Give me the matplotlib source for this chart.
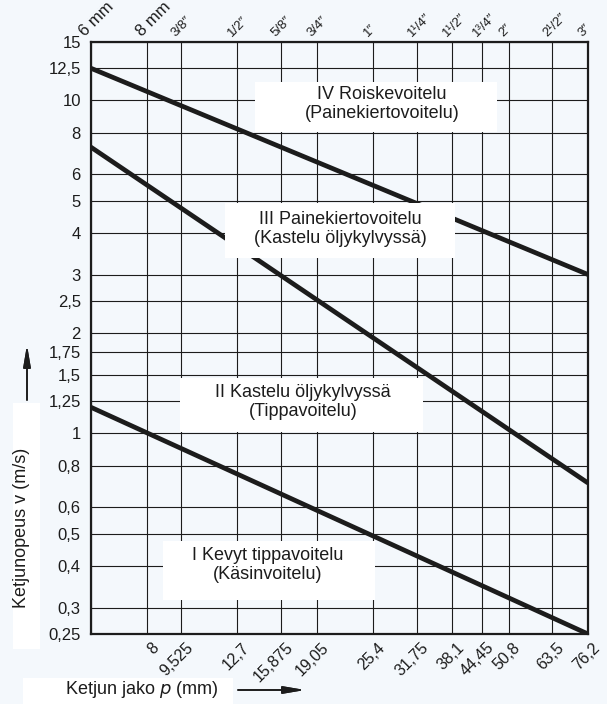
import matplotlib.pyplot as plt
from matplotlib.patches import Rectangle
from matplotlib.transforms import ScaledTranslation, blended_transform_factory

plt.rcParams['font.family'] = ['Liberation Sans', 'DejaVu Sans']

# chain pitch (mm) and matching inch sizes
pitch_mm = [6, 8, 9.525, 12.7, 15.875, 19.05, 25.4, 31.75, 38.1, 44.45, 50.8, 63.5, 76.2]
pitch_bottom = ['', '8', '9,525', '12,7', '15,875', '19,05', '25,4', '31,75', '38,1',
                '44,45', '50,8', '63,5', '76,2']
pitch_top = ['6 mm', '8 mm', '3/8″', '1/2″', '5/8″', '3/4″', '1″', '1¹/4″', '1¹/2″',
             '1³/4″', '2″', '2¹/2″', '3″']

# chain speed (m/s)
speed_ticks = [0.25, 0.3, 0.4, 0.5, 0.6, 0.8, 1, 1.25, 1.5, 1.75, 2, 2.5, 3, 4, 5,
               6, 8, 10, 12.5, 15]
speed_labels = ['0,25', '0,3', '0,4', '0,5', '0,6', '0,8', '1', '1,25', '1,5', '1,75',
                '2', '2,5', '3', '4', '5', '6', '8', '10', '12,5', '15']

# boundary lines between lubrication ranges
line_pitch = [6, 76.2]
limit_1_2 = [1.2, 0.25]
limit_2_3 = [7.25, 0.71]
limit_3_4 = [12.5, 3.0]

zones = ['IV Roiskevoitelu\n(Painekiertovoitelu)',
         'III Painekiertovoitelu\n(Kastelu öljykylvyssä)',
         'II Kastelu öljykylvyssä\n(Tippavoitelu)',
         'I Kevyt tippavoitelu\n(Käsinvoitelu)']

bg = '#f4f8fc'
ink = '#1c1c1c'
W, H = 607, 704

fig = plt.figure(figsize=(W / 100, H / 100), dpi=100, facecolor=bg)
ax = fig.add_axes([90.5 / W, 1 - 634 / H, 497.5 / W, 592.3 / H], facecolor=bg)

ax.set_xscale('log')
ax.set_yscale('log')
ax.set_xlim(6, 76.2)
ax.set_ylim(0.25, 15)

ax.set_xticks(pitch_mm)
ax.set_xticklabels([])
ax.set_xticks([], minor=True)
ax.set_yticks(speed_ticks)
ax.set_yticklabels(speed_labels, fontsize=12, color=ink)
ax.set_yticks([], minor=True)
ax.tick_params(length=0)
ax.tick_params(axis='y', pad=7)

# rotated pitch labels below and above the grid
xt = blended_transform_factory(ax.transData, ax.transAxes)
px = fig.dpi_scale_trans
for p, lab in zip(pitch_mm, pitch_bottom):
    ax.text(p, 0, lab, transform=xt + ScaledTranslation(4 / 100, -6 / 100, px),
            rotation=45, ha='right', va='top', rotation_mode='anchor',
            fontsize=11.5, color=ink)
for p, lab in zip(pitch_mm, pitch_top):
    ax.text(p, 1, lab, transform=xt + ScaledTranslation(-3 / 100, 3 / 100, px),
            rotation=45, ha='left', va='bottom', rotation_mode='anchor',
            fontsize=12 if 'mm' in lab else 9.5, color=ink)

ax.grid(True, which='major', color=ink, lw=0.8)
for s in ax.spines.values():
    s.set_linewidth(1.6)
    s.set_color(ink)

for vals in (limit_1_2, limit_2_3, limit_3_4):
    ax.plot(line_pitch, vals, color=ink, lw=3.4, solid_capstyle='butt', zorder=3)

# white label boxes (axes fractions)
boxes = [(0.331, 0.848, 0.486, 0.084, 0.586, 0.895),
         (0.270, 0.635, 0.463, 0.093, 0.5015, 0.684),
         (0.180, 0.341, 0.488, 0.091, 0.427, 0.392),
         (0.146, 0.057, 0.426, 0.100, 0.357, 0.1165)]
for name, (bx, by, bw, bh, tx, ty) in zip(zones, boxes):
    ax.add_patch(Rectangle((bx, by), bw, bh, transform=ax.transAxes,
                           facecolor='white', edgecolor='none', zorder=4))
    ax.text(tx, ty, name, transform=ax.transAxes, ha='center', va='center',
            fontsize=13, color=ink, linespacing=1.15, zorder=5)

# axis titles with arrows
fig.patches.append(Rectangle((13 / W, 1 - 649 / H), 27 / W, 246 / H, transform=fig.transFigure,
                             facecolor='white', edgecolor='none', zorder=0))
fig.patches.append(Rectangle((23 / W, 0), 210 / W, 26 / H, transform=fig.transFigure,
                             facecolor='white', edgecolor='none', zorder=0))
fig.text(22 / W, 1 - 528 / H, 'Ketjunopeus v (m/s)', rotation=90, ha='center',
         va='center', fontsize=13, color=ink)
fig.text(65 / W, 1 - 690 / H, 'Ketjun jako $\\it{p}$ (mm)', ha='left', va='center',
         fontsize=13, color=ink)
arrow = dict(arrowstyle='-|>,head_length=1.3,head_width=0.22', color=ink, lw=1.2,
             shrinkA=0, shrinkB=0)
fig.add_artist(plt.annotate('', xy=(27 / W, 1 - 345 / H), xytext=(27 / W, 1 - 400 / H),
                            xycoords='figure fraction', arrowprops=arrow))
fig.add_artist(plt.annotate('', xy=(305 / W, 1 - 690 / H), xytext=(238 / W, 1 - 690 / H),
                            xycoords='figure fraction', arrowprops=arrow))

fig.savefig('out.png', dpi=100, facecolor=bg)
